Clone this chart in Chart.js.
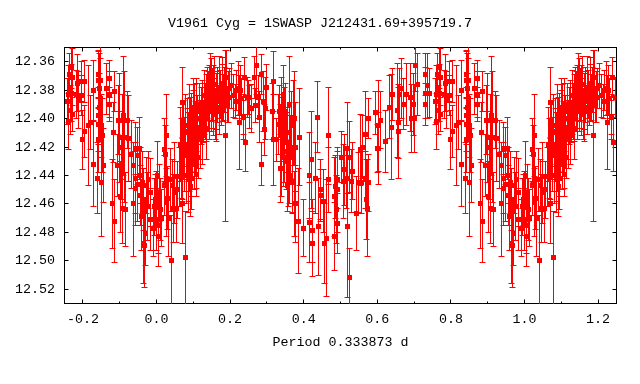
<!DOCTYPE html>
<html>
<head>
<meta charset="utf-8">
<style>html,body{margin:0;padding:0;background:#fff}canvas{display:block}</style>
<script src="https://cdn.jsdelivr.net/npm/chart.js@4/dist/chart.umd.min.js"></script>
</head>
<body>
<canvas id="c" width="640" height="384"></canvas>
<script>
const titleText = "V1961 Cyg = 1SWASP J212431.69+395719.7";
const xLabel = "Period 0.333873 d";
const xTicks = [-0.2, 0.0, 0.2, 0.4, 0.6, 0.8, 1.0, 1.2];
const xMinorTicks = [-0.2, -0.1, 0.0, 0.1, 0.2, 0.3, 0.4, 0.5, 0.6, 0.7, 0.8, 0.9, 1.0, 1.1, 1.2];
const yTicks = [12.36, 12.38, 12.40, 12.42, 12.44, 12.46, 12.48, 12.50, 12.52];

// first cycle
const phaseA = [
-0.243,-0.239,-0.238,-0.236,-0.233,-0.231,-0.230,-0.229,-0.227,-0.218,
-0.214,-0.212,-0.203,-0.203,-0.202,-0.195,-0.195,-0.185,-0.178,-0.171,-0.171,
-0.160,-0.157,-0.157,-0.157,-0.157,-0.157,-0.153,-0.151,-0.156,-0.149,
-0.146,-0.144,-0.135,-0.129,-0.128,-0.129,-0.119,-0.117,-0.115,-0.114,
-0.106,-0.103,-0.100,-0.097,-0.092,-0.092,-0.090,-0.088,-0.084,-0.080,-0.076,
-0.067,-0.062,-0.062,-0.058,-0.058,-0.057,-0.052,-0.052,-0.047,-0.044,
-0.040,-0.035,-0.035,-0.032,-0.030,-0.028,-0.024,-0.022,-0.017,-0.008,
-0.004,0.001,0.001,0.006,0.006,0.008,0.010,0.021,0.021,0.025,
0.026,0.028,0.030,0.033,0.039,0.041,0.046,0.048,0.050,0.054,
0.062,0.064,0.069,0.071,0.071,0.073,0.079,0.087,0.087,0.087,
0.092,0.092,0.096,0.100,0.100,0.105,0.109,0.110,0.110,0.111,
0.114,0.118,0.119,0.119,0.124,0.128,0.130,0.133,0.137,0.137,
0.141,0.143,0.146,0.149,0.152,0.155,0.158,0.160,0.162,0.164,
0.167,0.170,0.173,0.176,0.179,0.182,0.187,0.191,0.193,0.195,
0.199,0.203,0.209,0.214,0.218,0.223,0.225,0.227,0.232,0.236,
0.237,0.239,0.243,0.246,0.250,0.254,0.259,0.265,0.268,0.273,
0.277,0.280,0.284,0.286,0.290,0.293,0.295,0.300,0.316,0.318,0.319,
0.327,0.331,0.338,0.340,0.340,0.345,0.345,0.349,0.354,0.356,
0.359,0.361,0.361,0.369,0.370,0.372,0.375,0.375,0.377,0.379,
0.385,0.388,0.399,0.417,0.417,0.421,0.423,0.423,0.432,0.437,
0.440,0.446,0.446,0.454,0.457,0.463,0.467,0.467,0.484,0.484,
0.486,0.489,0.491,0.491,0.491,0.503,0.508,0.510,0.517,0.519,
0.519,0.524,0.524,0.530,0.532,0.543,0.549,0.553,0.558,0.559,
0.567,0.567,0.572,0.573,0.575,0.576,0.595,0.601,0.602,0.604,
0.609,0.622,0.633,0.638,0.642,0.654,0.657,0.657,0.661,0.666,
0.670,0.680,0.689,0.693,0.698,0.700,0.703,0.709,0.731,0.732,
0.732,0.736,0.743];
const magA = [
12.388,12.383,12.402,12.369,12.394,12.364,12.382,12.371,12.397,12.383,
12.375,12.387,12.374,12.384,12.415,12.374,12.409,12.405,12.403,12.432,12.380,
12.442,12.415,12.404,12.398,12.369,12.373,12.373,12.386,12.379,12.445,
12.412,12.433,12.379,12.383,12.372,12.390,12.460,12.410,12.381,12.472,
12.433,12.401,12.401,12.455,12.463,12.413,12.398,12.413,12.464,12.401,12.414,
12.425,12.460,12.433,12.421,12.442,12.449,12.426,12.446,12.421,12.454,
12.469,12.488,12.457,12.489,12.481,12.447,12.462,12.443,12.471,12.477,
12.457,12.471,12.455,12.475,12.483,12.452,12.464,12.447,12.422,12.425,
12.412,12.459,12.456,12.470,12.443,12.500,12.463,12.452,12.441,12.463,
12.441,12.418,12.428,12.460,12.389,12.415,12.498,12.442,12.433,12.420,
12.448,12.411,12.432,12.405,12.392,12.420,12.439,12.395,12.429,12.406,
12.427,12.400,12.409,12.411,12.390,12.402,12.384,12.395,12.407,12.400,
12.387,12.378,12.373,12.392,12.383,12.385,12.376,12.397,12.388,12.392,
12.380,12.378,12.383,12.390,12.375,12.385,12.412,12.371,12.391,12.385,
12.379,12.377,12.384,12.388,12.380,12.379,12.403,12.380,12.386,12.399,
12.399,12.371,12.417,12.385,12.385,12.392,12.393,12.371,12.391,12.363,
12.385,12.399,12.432,12.369,12.388,12.408,12.393,12.378,12.395,12.374,12.415,
12.415,12.404,12.435,12.393,12.435,12.383,12.423,12.427,12.417,12.447,
12.440,12.390,12.440,12.444,12.445,12.403,12.400,12.460,12.420,12.460,
12.472,12.413,12.477,12.440,12.473,12.429,12.479,12.488,12.442,12.399,
12.476,12.450,12.454,12.458,12.488,12.484,12.412,12.443,12.483,12.455,
12.448,12.464,12.443,12.450,12.474,12.427,12.444,12.436,12.442,12.476,
12.421,12.512,12.427,12.444,12.437,12.467,12.445,12.422,12.445,12.420,
12.411,12.443,12.457,12.463,12.400,12.445,12.396,12.421,12.405,12.421,
12.401,12.416,12.392,12.406,12.383,12.394,12.403,12.409,12.383,12.379,
12.390,12.383,12.385,12.400,12.390,12.400,12.363,12.376,12.369,12.382,
12.390,12.377,12.382];
const errA = [
.016,.020,.020,.015,.017,.015,.020,.020,.012,.017,
.020,.020,.014,.014,.021,.015,.018,.042,.019,.030,.021,
.025,.023,.019,.020,.017,.020,.024,.028,.025,.038,
.026,.026,.018,.016,.013,.012,.031,.021,.014,.029,
.022,.024,.033,.025,.025,.030,.042,.046,.026,.020,.030,
.024,.037,.016,.018,.025,.026,.020,.026,.022,.021,
.024,.028,.022,.030,.022,.020,.024,.020,.022,.020,
.018,.022,.018,.020,.021,.020,.022,.021,.022,.020,
.029,.024,.022,.027,.022,.032,.024,.022,.024,.024,
.021,.026,.028,.028,.025,.028,.033,.024,.025,.024,
.021,.026,.023,.025,.020,.018,.016,.020,.020,.022,
.015,.016,.020,.024,.017,.015,.018,.020,.022,.016,
.020,.015,.019,.017,.018,.022,.020,.018,.020,.024,
.016,.022,.017,.015,.018,.016,.060,.019,.012,.018,
.014,.016,.015,.012,.014,.019,.033,.017,.014,.012,
.016,.014,.020,.014,.012,.015,.017,.015,.012,.020,
.015,.018,.015,.014,.021,.018,.022,.016,.020,.021,.032,
.015,.021,.024,.022,.020,.020,.025,.018,.021,.018,
.022,.034,.020,.023,.021,.030,.033,.023,.031,.027,
.037,.034,.020,.030,.028,.034,.022,.023,.025,.025,
.034,.021,.018,.022,.028,.041,.034,.023,.024,.028,
.022,.024,.020,.030,.021,.018,.026,.025,.021,.050,
.032,.021,.025,.022,.020,.026,.021,.025,.022,.022,
.030,.020,.028,.034,.014,.020,.015,.017,.032,.025,
.020,.022,.022,.037,.018,.033,.025,.033,.018,.021,
.018,.022,.024,.024,.022,.024,.018,.022,.015,.018,
.015,.023,.017];

// repeated cycle, right-hand side of the plot
const phaseB = [
0.757,0.761,0.762,0.764,0.767,0.769,0.770,0.771,0.773,0.782,
0.786,0.788,0.797,0.797,0.798,0.805,0.805,0.815,0.822,0.829,0.829,
0.840,0.843,0.843,0.843,0.843,0.843,0.847,0.849,0.844,0.851,
0.854,0.856,0.865,0.871,0.872,0.871,0.881,0.883,0.885,0.886,
0.894,0.897,0.900,0.903,0.908,0.908,0.910,0.912,0.916,0.920,0.924,
0.933,0.938,0.938,0.942,0.942,0.943,0.948,0.948,0.953,0.956,
0.960,0.965,0.965,0.968,0.970,0.972,0.976,0.978,0.983,0.992,
0.996,1.001,1.001,1.006,1.006,1.008,1.010,1.021,1.021,1.025,
1.026,1.028,1.030,1.033,1.039,1.041,1.046,1.048,1.050,1.054,
1.062,1.064,1.069,1.071,1.071,1.073,1.079,1.087,1.087,1.087,
1.092,1.092,1.096,1.100,1.100,1.105,1.109,1.110,1.110,1.111,
1.114,1.118,1.119,1.119,1.124,1.128,1.130,1.133,1.137,1.137,
1.141,1.143,1.146,1.149,1.152,1.155,1.158,1.160,1.162,1.164,
1.167,1.170,1.173,1.176,1.179,1.182,1.187,1.191,1.193,1.195,
1.199,1.203,1.209,1.214,1.218,1.223,1.225,1.227,1.232,1.236,
1.237,1.239,1.243,1.246];
const magB = [
12.388,12.383,12.402,12.369,12.394,12.364,12.382,12.371,12.397,12.383,
12.375,12.387,12.374,12.384,12.415,12.374,12.409,12.405,12.403,12.432,12.380,
12.442,12.415,12.404,12.398,12.369,12.373,12.373,12.386,12.379,12.445,
12.412,12.433,12.379,12.383,12.372,12.390,12.460,12.410,12.381,12.472,
12.433,12.401,12.401,12.455,12.463,12.413,12.398,12.413,12.464,12.401,12.414,
12.425,12.460,12.433,12.421,12.442,12.449,12.426,12.446,12.421,12.454,
12.469,12.488,12.457,12.489,12.481,12.447,12.462,12.443,12.471,12.477,
12.457,12.471,12.455,12.475,12.483,12.452,12.464,12.447,12.422,12.425,
12.412,12.459,12.456,12.470,12.443,12.500,12.463,12.452,12.441,12.463,
12.441,12.418,12.428,12.460,12.389,12.415,12.498,12.442,12.433,12.420,
12.448,12.411,12.432,12.405,12.392,12.420,12.439,12.395,12.429,12.406,
12.427,12.400,12.409,12.411,12.390,12.402,12.384,12.395,12.407,12.400,
12.387,12.378,12.373,12.392,12.383,12.385,12.376,12.397,12.388,12.392,
12.380,12.378,12.383,12.390,12.375,12.385,12.412,12.371,12.391,12.385,
12.379,12.377,12.384,12.388,12.380,12.379,12.403,12.380,12.386,12.399,
12.399,12.371,12.417,12.385];
const errB = [
.016,.020,.020,.015,.017,.015,.020,.020,.012,.017,
.020,.020,.014,.014,.021,.015,.018,.042,.019,.030,.021,
.025,.023,.019,.020,.017,.020,.024,.028,.025,.038,
.026,.026,.018,.016,.013,.012,.031,.021,.014,.029,
.022,.024,.033,.025,.025,.030,.042,.046,.026,.020,.030,
.024,.037,.016,.018,.025,.026,.020,.026,.022,.021,
.024,.028,.022,.030,.022,.020,.024,.020,.022,.020,
.018,.022,.018,.020,.021,.020,.022,.021,.022,.020,
.029,.024,.022,.027,.022,.032,.024,.022,.024,.024,
.021,.026,.028,.028,.025,.028,.033,.024,.025,.024,
.021,.026,.023,.025,.020,.018,.016,.020,.020,.022,
.015,.016,.020,.024,.017,.015,.018,.020,.022,.016,
.020,.015,.019,.017,.018,.022,.020,.018,.020,.024,
.016,.022,.017,.015,.018,.016,.060,.019,.012,.018,
.014,.016,.015,.012,.014,.019,.033,.017,.014,.012,
.016,.014,.020,.014];

// further points in the crowded parts of the curve
const phaseC = [
0.070,0.075,0.078,0.081,0.083,0.085,0.089,0.091,0.094,0.095,
0.098,0.102,0.103,0.106,0.108,0.112,0.116,0.121,0.126,0.131,
0.135,0.139,0.144,0.150,0.156,0.166,0.172,0.178,0.184,
-0.043,-0.038,-0.015,-0.006,0.003,0.013,0.044,0.057,
-0.155,-0.150,-0.101,-0.095,
0.333,0.336,0.343,0.347,0.351,0.353,0.357,0.364,0.366];
const magC = [
12.435,12.425,12.405,12.440,12.418,12.410,12.398,12.425,12.442,12.402,
12.418,12.428,12.396,12.410,12.390,12.415,12.393,12.398,12.412,12.393,
12.389,12.382,12.395,12.380,12.392,12.385,12.395,12.382,12.380,
12.440,12.445,12.452,12.462,12.440,12.470,12.447,12.450,
12.392,12.405,12.420,12.435,
12.395,12.410,12.405,12.400,12.395,12.430,12.410,12.420,12.405];
const errC = [
.022,.026,.022,.020,.025,.024,.022,.026,.022,.020,
.024,.022,.020,.022,.018,.020,.018,.020,.020,.018,
.020,.018,.020,.022,.020,.018,.016,.020,.016,
.020,.022,.024,.020,.024,.020,.018,.020,
.024,.022,.025,.022,
.018,.020,.020,.022,.020,.020,.018,.022,.024];
const phaseD = [
1.070,1.075,1.078,1.081,1.083,1.085,1.089,1.091,1.094,1.095,
1.098,1.102,1.103,1.106,1.108,1.112,1.116,1.121,1.126,1.131,
1.135,1.139,1.144,1.150,1.156,1.166,1.172,1.178,1.184,
0.957,0.962,0.985,0.994,1.003,1.013,1.044,1.057,
0.845,0.850,0.899,0.905];
const magD = [
12.435,12.425,12.405,12.440,12.418,12.410,12.398,12.425,12.442,12.402,
12.418,12.428,12.396,12.410,12.390,12.415,12.393,12.398,12.412,12.393,
12.389,12.382,12.395,12.380,12.392,12.385,12.395,12.382,12.380,
12.440,12.445,12.452,12.462,12.440,12.470,12.447,12.450,
12.392,12.405,12.420,12.435];
const errD = [
.022,.026,.022,.020,.025,.024,.022,.026,.022,.020,
.024,.022,.020,.022,.018,.020,.018,.020,.020,.018,
.020,.018,.020,.022,.020,.018,.016,.020,.016,
.020,.022,.024,.020,.024,.020,.018,.020,
.024,.022,.025,.022];

const phase = phaseA.concat(phaseC, phaseB, phaseD);
const mag = magA.concat(magC, magB, magD);
const err = errA.concat(errC, errB, errD);

const RED = "#ff0000";
const markers = phase.map((p, i) => ({x: p, y: mag[i]}));
const bars = [];
phase.forEach((p, i) => {
  bars.push({x: p, y: mag[i] - err[i]}, {x: p, y: mag[i] + err[i]}, {x: p, y: NaN});
});

// gnuplot rasterises without antialiasing: settle every mark on a pixel centre
const pixelSnap = {
  id: "pixelSnap",
  afterDatasetsUpdate(chart) {
    chart.getSortedVisibleDatasetMetas().forEach(meta => {
      meta.data.forEach(el => {
        if (!el.skip) {
          el.x = Math.floor(el.x) + 0.5;
          el.y = Math.floor(el.y) + 0.5;
        }
      });
    });
  }
};

const FONT = {family: "'Liberation Mono', monospace", size: 13.33, lineHeight: 1.2, weight: "normal"};
const setTicks = list => scale => { scale.ticks = list.map(v => ({value: v})); };
const frameX = (extra) => Object.assign({
  type: "linear", min: -0.25, max: 1.25,
  border: {display: true, color: "#000", width: 1},
  grid: {drawOnChartArea: false, drawTicks: true, tickLength: -4, color: "#000", lineWidth: 1, tickWidth: 1},
  ticks: {display: false, autoSkip: false},
  afterBuildTicks: setTicks(xTicks),
  afterFit: s => { s.height = 0; }
}, extra);
const frameY = (extra) => Object.assign({
  type: "linear", min: 12.35, max: 12.53, reverse: true,
  border: {display: true, color: "#000", width: 1},
  grid: {drawOnChartArea: false, drawTicks: true, tickLength: -4, color: "#000", lineWidth: 1, tickWidth: 1},
  ticks: {display: false, autoSkip: false},
  afterBuildTicks: setTicks(yTicks)
}, extra);

new Chart(document.getElementById("c"), {
  type: "scatter",
  plugins: [pixelSnap],
  data: {datasets: [
    {label: "error", data: bars, showLine: true, spanGaps: false, borderColor: RED, borderWidth: 1,
     backgroundColor: RED, pointStyle: "line", pointRadius: 3, pointBorderWidth: 1, pointBorderColor: RED, pointHoverRadius: 3, order: 2},
    {label: "mag", data: markers, showLine: false, backgroundColor: RED, borderColor: RED,
     pointStyle: "rect", pointRadius: 3.5356, pointBorderWidth: 0, pointHoverRadius: 3.5356, order: 1}
  ]},
  options: {
    responsive: false, animation: false, events: [],
    layout: {padding: 0},
    plugins: {
      legend: {display: false}, tooltip: {enabled: false},
      title: {display: true, text: titleText, color: "#000", font: FONT, padding: {top: 15, bottom: 16.5}}
    },
    scales: {
      x: frameX({
        position: "bottom",
        ticks: {display: true, color: "#000", font: FONT, padding: 11.5, autoSkip: false, maxRotation: 0, minRotation: 0,
                callback: v => v.toFixed(1)},
        title: {display: true, text: xLabel, color: "#000", font: FONT, padding: {top: 0, bottom: 34}},
        afterFit: s => { s.height = 80.5; }
      }),
      xMinor: frameX({position: "bottom", weight: -1, border: {display: false},
        grid: {drawOnChartArea: false, drawTicks: true, tickLength: -2, color: "#000", tickWidth: 1},
        afterBuildTicks: setTicks(xMinorTicks)}),
      xTop: frameX({position: "top"}),
      xTopMinor: frameX({position: "top", weight: -1, border: {display: false},
        grid: {drawOnChartArea: false, drawTicks: true, tickLength: -2, color: "#000", tickWidth: 1},
        afterBuildTicks: setTicks(xMinorTicks)}),
      y: frameY({
        position: "left",
        ticks: {display: true, color: "#000", font: FONT, padding: 13.5, autoSkip: false, callback: v => v.toFixed(2)},
        afterFit: s => { s.width = 64.5; }
      }),
      yRight: frameY({position: "right", afterFit: s => { s.width = 23.5; }})
    }
  }
});
</script>
</body>
</html>
